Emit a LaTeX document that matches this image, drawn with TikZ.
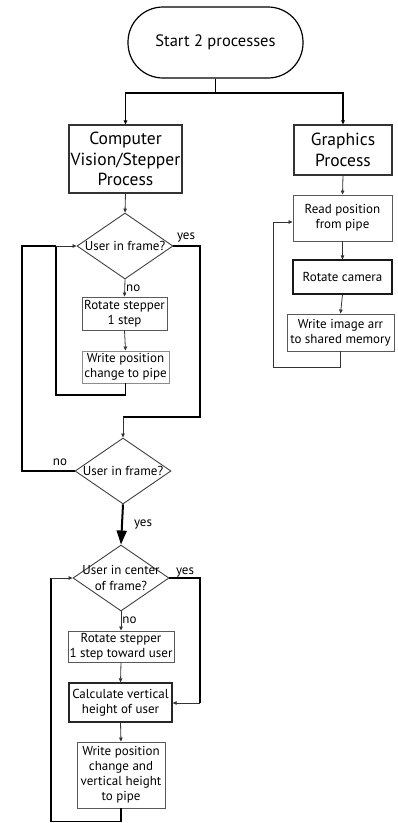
\documentclass[tikz,border=0pt]{standalone}
\usepackage{fontspec}
\setmainfont{PT Sans}
\usetikzlibrary{arrows.meta,shapes.geometric}
\begin{document}
\begin{tikzpicture}[x=1pt,y=-1pt,
  box/.style={draw=black!65,line width=0.9pt,rectangle,inner sep=0pt,align=center,font=\fontsize{13}{15}\selectfont},
  bigbox/.style={draw=black!80,line width=1.1pt,rectangle,inner sep=0pt,align=center,font=\fontsize{17.5}{20.5}\selectfont},
  diam/.style={draw=black!75,line width=0.9pt,diamond,inner sep=0pt,minimum width=96pt,minimum height=66pt},
  dtext/.style={inner sep=0pt,align=center,font=\fontsize{13}{15.5}\selectfont},
  lab/.style={inner sep=1pt,font=\fontsize{13}{15}\selectfont},
  thin/.style={draw=black!80,line width=0.8pt,-{Triangle[length=4pt,width=3.5pt]}},
  heavy/.style={draw=black,line width=1.6pt},
  heavyarr/.style={heavy,-{Triangle[length=4pt,width=3.5pt]}},
]
\useasboundingbox (0,0) rectangle (398,823);

% terminal
\node[draw=black,line width=1.2pt,rounded corners=35pt,minimum width=175pt,minimum height=71pt,
      font=\fontsize{16.5}{18}\selectfont] (start) at (215.5,42.5) {Start 2 processes};

% two process heads
\node[bigbox,minimum width=113pt,minimum height=68pt] (cv) at (125.5,159) {Computer\\Vision/Stepper\\Process};
\node[bigbox,minimum width=98pt,minimum height=50pt] (gfx) at (343,150) {Graphics\\Process};

% graphics loop
\node[box,minimum width=99pt,minimum height=46pt] (read) at (342.5,218) {Read position\\from pipe};
\node[box,draw=black!90,line width=1.1pt,minimum width=99pt,minimum height=34pt] (rotcam) at (342.5,277) {Rotate camera};
\node[box,minimum width=107pt,minimum height=37pt] (wimg) at (340.5,332.5) {Write image arr\\to shared memory};

% search loop
\node[diam] (d1) at (125,246) {};
\node[dtext] (d1t) at (d1) {User in frame?};
\node[box,minimum width=85pt,minimum height=33pt] (rot1) at (124.5,313.5) {Rotate stepper\\1 step};
\node[box,draw=black!45,minimum width=87pt,minimum height=32pt] (wpos1) at (125.5,367) {Write position\\change to pipe};

\node[diam] (d2) at (123,471) {};
\node[dtext] (d2t) at (d2) {User in frame?};

% tracking loop
\node[diam] (d3) at (121,578) {};
\node[dtext] (d3t) at (d3) {User in center\\of frame?};
\node[box,minimum width=106pt,minimum height=31pt] (rot2) at (121,646.5) {Rotate stepper\\1 step toward user};
\node[box,draw=black!85,line width=1.3pt,minimum width=103pt,minimum height=39pt] (calc) at (120.5,702.5) {Calculate vertical\\height of user};
\node[box,minimum width=88pt,minimum height=66pt] (wpos2) at (121,775) {Write position\\change and\\vertical height\\to pipe};

% split from the terminal
\coordinate (split) at (215.5,93);
\draw[heavy] (start.south) -- (split);
\draw[heavyarr] (split) -| (cv.north);
\draw[heavyarr] (split) -| (gfx.north);

% graphics process chain
\draw[thin] (gfx.south) -- (read.north);
\draw[thin] (read.south) -- (rotcam.north);
\draw[thin] (rotcam.south) -- (wimg.north);
\coordinate (gl) at (273,222);
\draw[draw=black!80,line width=0.9pt] (wimg.south) |- (273,367) -- (gl);
\draw[thin] (gl) -- (read.west |- gl);

% search loop
\draw[thin] (cv.south) -- (d1.north);
\draw[thin] (d1.south) -- node[lab,right,pos=0.5] {no} (rot1.north);
\draw[thin] (rot1.south) -- (wpos1.north);
\coordinate (l1) at (56,246);
\draw[heavy] (wpos1.south) |- (56,395) -- (l1);
\draw[thin] (l1) -- (d1.west);

\coordinate (y1) at (200,417);
\draw[heavy] (d1.east) -| (y1) -- (123,417);
\draw[thin] (123,417) -- (d2.north);
\node[lab] at (186,237) {yes};

\draw[heavy] (d2.west) -| (22,246) -- (l1);
\node[lab] at (60,462) {no};

\draw[draw=black,line width=2pt,-{Triangle[length=14pt,width=10pt]}] (d2.south) -- (d3.north);
\node[lab] at (143,524) {yes};

% tracking loop
\draw[heavy] (d3.east) -| (200,703);
\draw[thin] (200,703) -- (calc.east |- 0,703);
\node[lab] at (185,572) {yes};
\draw[thin] (d3.south) -- node[lab,right,pos=0.45] {no} (rot2.north);
\draw[thin] (rot2.south) -- (calc.north);
\draw[thin] (calc.south) -- (wpos2.north);
\coordinate (l3) at (51,578);
\draw[heavy] (wpos2.south) |- (51,821.5) -- (l3);
\draw[thin] (l3) -- (d3.west);
\end{tikzpicture}
\end{document}
